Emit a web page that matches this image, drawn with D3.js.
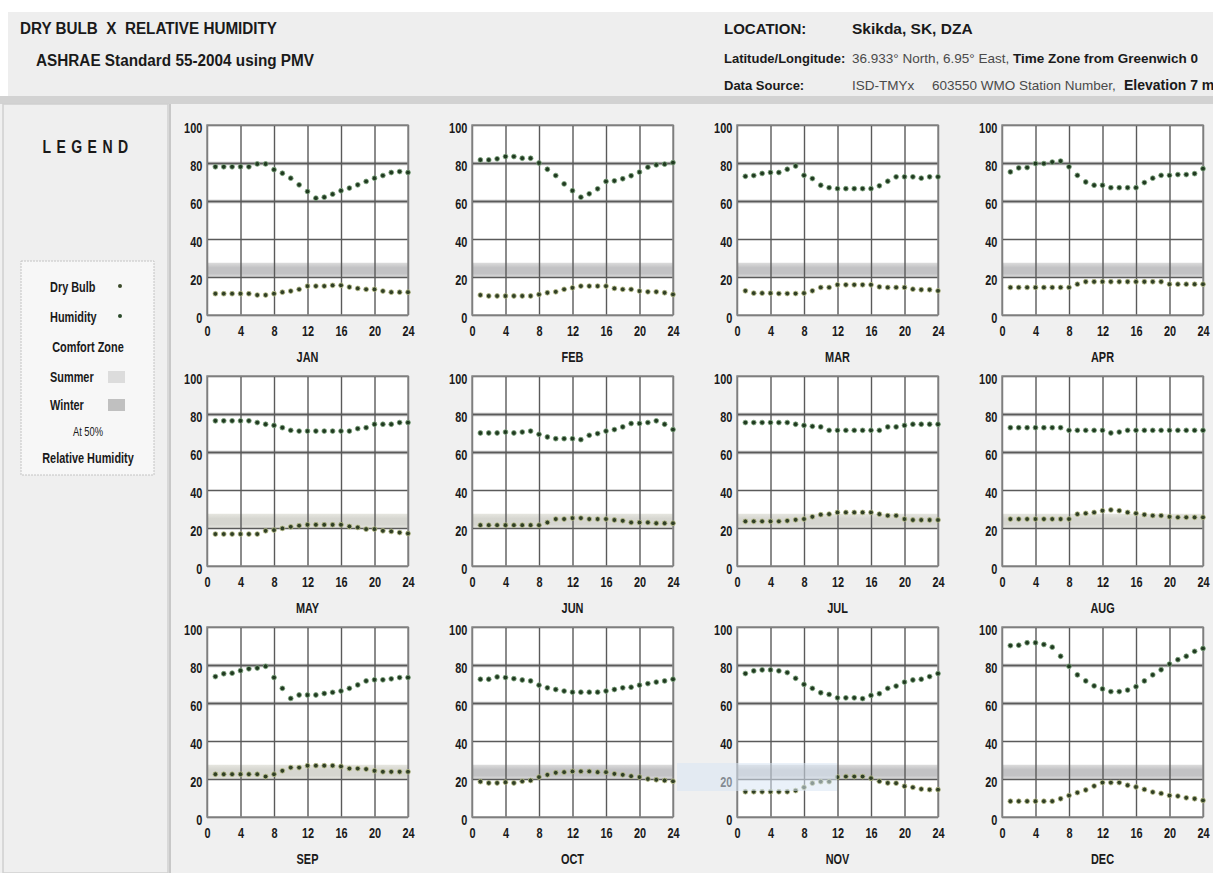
<!DOCTYPE html>
<html>
<head>
<meta charset="utf-8">
<script src="https://cdn.jsdelivr.net/npm/d3@7"></script>
<style>
  body { margin: 0; background: #fff; }
  svg { display: block; }
  .tick text { font-family: "Liberation Sans", Arial, sans-serif; font-weight: bold; font-size: 14px; fill: #1a1a1a; }
  .grid line { stroke: #5a5a5a; stroke-width: 1.4; }
  .grid path { display: none; }
  .axis path, .axis line { display: none; }
</style>
</head>
<body>
<script>
(function() {

    var FONT = '"Liberation Sans", Arial, sans-serif';
    var NARROW = 0.78;   // horizontal squeeze to imitate a narrow face

    // Months, seasons and ticks
    var months = ['JAN', 'FEB', 'MAR', 'APR', 'MAY', 'JUN', 'JUL', 'AUG', 'SEP', 'OCT', 'NOV', 'DEC'];
    var season = ['winter', 'winter', 'winter', 'winter', 'summer', 'summer', 'summer', 'summer', 'summer', 'winter', 'winter', 'winter'];
    var hours = d3.range(1, 25);
    var xTicks = [0, 4, 8, 12, 16, 20, 24];
    var yTicks = [0, 20, 40, 60, 80, 100];

    // Comfort zone (drawn on the same 0-100 scale)
    var comfortLow = 20, comfortHigh = 27.5;

    // Hourly relative humidity (%) per month, hours 1..24
    var humJan = [78, 78, 78, 78, 78, 79.5, 79.5, 76.5, 74.6, 72, 68.5, 65, 61.5, 62, 63.6, 65.4, 66.8, 68.5, 70.3, 72, 73.4, 75, 75.5, 75];
    var humFeb = [81.6, 81.6, 82.2, 83.4, 83.4, 82.5, 82.5, 80, 76.7, 73.4, 69, 65.4, 62, 63.8, 66.4, 70.3, 70.6, 71.7, 73.3, 75.2, 77.8, 79, 79.4, 80.2];
    var humMar = [73, 73.4, 74.5, 75, 75, 76.7, 78.4, 73.5, 71.8, 68.3, 67, 66.5, 66.5, 66.5, 66.5, 66.5, 68, 70.4, 72.7, 72.7, 72.7, 72, 72.7, 72.7];
    var humApr = [75.3, 77.4, 77.6, 79.7, 79.7, 80.5, 81, 78, 73.5, 70, 68.3, 68.3, 67, 67, 67, 67, 69.7, 72, 73.5, 73.5, 73.9, 73.9, 74.4, 77];
    var humMay = [76.4, 76.4, 76.4, 76.4, 76.4, 75.5, 74.6, 74, 72.8, 71.4, 71, 71, 71, 71, 71, 71, 71, 72.3, 72.8, 74.6, 74.6, 74.6, 75.5, 75.5];
    var humJun = [70, 70, 70, 70.5, 70, 70.5, 71, 69.3, 67.9, 67, 67, 67, 66.5, 68.8, 69.7, 71, 71.8, 73.2, 75, 75, 75.5, 76.4, 74.6, 71.8];
    var humJul = [75.5, 75.5, 75.5, 75.5, 75.5, 75.5, 74.6, 74, 73.5, 73.2, 71.4, 71.4, 71.4, 71.4, 71.4, 71.4, 71.4, 73.2, 73.2, 74, 74.6, 74.6, 74.6, 74.6];
    var humAug = [72.8, 72.8, 72.8, 72.8, 72.8, 72.8, 72.8, 71.4, 71.4, 71.4, 71.4, 71.4, 70, 70.5, 71.4, 71.4, 71.4, 71.4, 71.4, 71.4, 71.4, 71.4, 71.4, 71.4];
    var humSep = [73.9, 75.4, 75.7, 77, 78, 78.4, 79.3, 73.4, 67.7, 62.4, 64.2, 64.2, 64.2, 65, 65.6, 66.3, 67.7, 69.5, 71.6, 72.2, 72.2, 72.7, 73.4, 73.4];
    var humOct = [72.5, 72.5, 73.7, 73.4, 72.8, 72.1, 71.6, 69.4, 68, 67.1, 66.3, 65.7, 65.7, 65.7, 65.7, 66.3, 67.1, 68, 68.3, 69.4, 70.2, 71, 71.6, 72.5];
    var humNov = [75.5, 76.9, 77.4, 77.4, 76.9, 76, 73, 69.8, 67.7, 65.4, 64.5, 62.7, 62.7, 62.7, 62.3, 64, 64.9, 67.7, 68.9, 71, 72.1, 72.5, 73.9, 75.5];
    var humDec = [90.2, 90.4, 91.7, 91.7, 90.8, 89.4, 84.6, 79.3, 74.8, 71.6, 69, 67.4, 66, 66, 66.8, 68.6, 71.6, 74.8, 77.5, 80.5, 82.8, 84.6, 87.2, 88.7];

    // Hourly dry bulb temperature (°C) per month, hours 1..24
    var dbJan = [11.2, 11.2, 11.2, 11.2, 11.2, 10.5, 10.5, 11.2, 12, 12.6, 13.5, 15.2, 15.2, 15.2, 15.6, 15.6, 14.7, 14, 13.5, 13.5, 12.6, 12, 12, 12];
    var dbFeb = [10.5, 10, 10, 10, 10, 10, 10, 10.8, 11.7, 12.2, 13.5, 14.3, 15.2, 15.2, 15.2, 15.2, 14, 13.5, 13.5, 12.6, 12.2, 12.2, 11.7, 10.8];
    var dbMar = [12.7, 11.5, 11.5, 11.5, 11.3, 11.3, 11.3, 11.5, 12.7, 14.5, 14.5, 15.9, 15.9, 15.9, 15.9, 15.9, 14.8, 14.5, 14.5, 14.5, 13.6, 13.3, 13.3, 12.7];
    var dbApr = [14.5, 14.5, 14.5, 14.5, 14.5, 14.5, 14.5, 14.5, 16.2, 17.5, 17.5, 17.5, 17.5, 17.5, 17.5, 17.5, 17.5, 17.5, 17.5, 16.2, 16.2, 16.2, 16.2, 16.2];
    var dbMay = [16.8, 16.8, 16.8, 16.8, 16.8, 16.8, 18.5, 18.9, 19.8, 20.6, 21.2, 21.7, 21.7, 21.7, 21.7, 21.7, 20.8, 20.3, 19.4, 19.4, 18.5, 18.2, 17.6, 17.1];
    var dbJun = [21.5, 21.5, 21.5, 21.5, 21.5, 21.5, 21.5, 21.5, 22.9, 24.7, 24.7, 25.2, 25.2, 24.7, 24.7, 24.7, 24.2, 23.8, 22.9, 22.9, 22.9, 22.5, 22.5, 22.5];
    var dbJul = [23.5, 23.5, 23.5, 23.5, 23.5, 23.8, 24.3, 24.7, 25.9, 27, 27.3, 28.2, 28.2, 28.2, 28.2, 28.2, 27.3, 26.5, 26.5, 24.7, 24.2, 24.2, 24.2, 24.2];
    var dbAug = [24.7, 24.7, 24.7, 24.7, 24.7, 24.7, 24.7, 24.7, 27.3, 27.7, 28.2, 29.1, 29.5, 29.1, 28.2, 27.7, 27, 26.5, 26.5, 25.9, 25.6, 25.6, 25.6, 25.6];
    var dbSep = [22.5, 22.5, 22.5, 22.5, 22.5, 22.5, 21.3, 22.5, 24.3, 26, 26, 27, 27, 27, 27, 26.6, 25.5, 25.5, 25.2, 24.3, 23.8, 23.8, 23.8, 23.8];
    var dbOct = [18.6, 17.9, 17.9, 18.3, 17.9, 18.8, 19.2, 21, 22.2, 23.3, 23.6, 24, 24, 24, 23.6, 23.6, 22.7, 22.2, 21.5, 21, 20, 19.6, 19.2, 18.8];
    var dbNov = [13.3, 13.3, 13.3, 13.3, 13.3, 13.3, 13.9, 15.6, 17.8, 18.6, 18.6, 21, 21.3, 21.3, 21.3, 20.4, 18.8, 17.9, 17.8, 16.2, 15.6, 14.7, 14.4, 14.4];
    var dbDec = [8.3, 8.3, 8.3, 8.3, 8.3, 8.3, 9.6, 11.3, 12.8, 14.2, 16.3, 18.1, 18.1, 18.1, 16.7, 15.8, 14.5, 13.1, 12.4, 11.3, 11, 10.1, 9.6, 8.7];

    var humidity = [humJan, humFeb, humMar, humApr, humMay, humJun, humJul, humAug, humSep, humOct, humNov, humDec];
    var dryBulb = [dbJan, dbFeb, dbMar, dbApr, dbMay, dbJun, dbJul, dbAug, dbSep, dbOct, dbNov, dbDec];

    // Page and panel dimensions
    var W = 1213, H = 873;
    var panel = {left: 207, top: 125, dx: 265, dy: 251, width: 201, height: 190};

    var svg = d3.select('body').append('svg')
        .attr('width', W)
        .attr('height', H);

    var defs = svg.append('defs');
    function bandGradient(id, mid, edge) {
        var g = defs.append('linearGradient').attr('id', id)
            .attr('x1', 0).attr('y1', 0).attr('x2', 0).attr('y2', 1);
        g.append('stop').attr('offset', '0%').attr('stop-color', edge);
        g.append('stop').attr('offset', '35%').attr('stop-color', mid);
        g.append('stop').attr('offset', '75%').attr('stop-color', mid);
        g.append('stop').attr('offset', '100%').attr('stop-color', edge);
    }
    bandGradient('winterBand', '#c2c2c4', '#dcdcdc');
    bandGradient('summerBand', '#d6d6d0', '#e6e6e0');

    // Header strip
    svg.append('rect').attr('x', 0).attr('y', 0).attr('width', W).attr('height', H).attr('fill', '#fff');
    svg.append('rect').attr('x', 8).attr('y', 12).attr('width', W - 8).attr('height', 84).attr('fill', '#eeeeee');
    svg.append('rect').attr('x', 0).attr('y', 96).attr('width', W).attr('height', 8).attr('fill', '#d2d2d2');

    // Body background
    svg.append('rect').attr('x', 0).attr('y', 104).attr('width', W).attr('height', H - 104).attr('fill', '#f0f0f0');
    svg.append('rect').attr('x', 3).attr('y', 104).attr('width', 165).attr('height', H - 104)
        .attr('fill', '#efefef').attr('stroke', '#d0d0d0').attr('stroke-width', 1.5);
    svg.append('line').attr('x1', 170).attr('x2', 170).attr('y1', 104).attr('y2', H)
        .attr('stroke', '#c8c8c8').attr('stroke-width', 2);

    // Text helper: fixed width (textLength), plain, or a narrow squeeze
    function text(parent, x, y, s, size, weight, opt) {
        opt = opt || {};
        var squeeze = (opt.len || opt.plain) ? '' : ' scale(' + NARROW + ',1)';
        var g = parent.append('g')
            .attr('transform', 'translate(' + x + ',' + y + ')' + squeeze);
        var t = g.append('text')
            .attr('dy', '0.35em')
            .attr('text-anchor', opt.anchor || 'start')
            .attr('font-family', FONT)
            .attr('font-size', size)
            .attr('font-weight', weight || 'normal')
            .attr('fill', opt.fill || '#1a1a1a')
            .style('white-space', 'pre')
            .text(s);
        if (opt.len) t.attr('textLength', opt.len).attr('lengthAdjust', 'spacingAndGlyphs');
        if (opt.spacing) t.attr('letter-spacing', opt.spacing);
        return t;
    }

    // Header titles
    text(svg, 20, 28, 'DRY BULB  X  RELATIVE HUMIDITY', 16, 'bold', {len: 257});
    text(svg, 36, 60, 'ASHRAE Standard 55-2004 using PMV', 16, 'bold', {len: 278});

    var gray = '#4a4a4a';
    text(svg, 724, 29, 'LOCATION:', 15, 'bold', {plain: true});
    text(svg, 852, 29, 'Skikda, SK, DZA', 15.5, 'bold', {plain: true});
    text(svg, 724, 58, 'Latitude/Longitude:', 13, 'bold', {plain: true});
    text(svg, 852, 58, '36.933° North, 6.95° East,', 13.5, 'normal', {plain: true, fill: gray});
    text(svg, 1013, 58, 'Time Zone from Greenwich 0', 13.5, 'bold', {plain: true});
    text(svg, 724, 85, 'Data Source:', 13, 'bold', {plain: true});
    text(svg, 852, 85, 'ISD-TMYx', 13.5, 'normal', {plain: true, fill: gray});
    text(svg, 932, 85, '603550 WMO Station Number,', 13.5, 'normal', {plain: true, fill: gray});
    text(svg, 1124, 85, 'Elevation 7 m', 14, 'bold', {plain: true});

    // Legend
    text(svg, 88, 147, 'LEGEND', 18, 'bold', {anchor: 'middle', spacing: 7});
    svg.append('rect').attr('x', 21).attr('y', 261).attr('width', 133).attr('height', 214)
        .attr('fill', '#f7f7f7').attr('stroke', '#c4c4c4').attr('stroke-dasharray', '2,1');
    text(svg, 50, 287, 'Dry Bulb', 14, 'bold');
    text(svg, 50, 317, 'Humidity', 14, 'bold');
    text(svg, 88, 347, 'Comfort Zone', 14, 'bold', {anchor: 'middle'});
    text(svg, 50, 377, 'Summer', 14, 'bold');
    text(svg, 50, 405, 'Winter', 14, 'bold');
    text(svg, 88, 432, 'At 50%', 12, 'normal', {anchor: 'middle'});
    text(svg, 88, 458, 'Relative Humidity', 14, 'bold', {anchor: 'middle'});
    svg.append('circle').attr('cx', 120).attr('cy', 286).attr('r', 2).attr('fill', '#3a4a2a');
    svg.append('circle').attr('cx', 120).attr('cy', 316).attr('r', 2).attr('fill', '#2b4a2b');
    svg.append('rect').attr('x', 108).attr('y', 371).attr('width', 17).attr('height', 12).attr('fill', '#dcdcdc');
    svg.append('rect').attr('x', 108).attr('y', 399).attr('width', 17).attr('height', 12).attr('fill', '#c0c0c0');

    // Scales shared by all panels
    var x = d3.scaleLinear().domain([0, 24]).range([0, panel.width]);
    var y = d3.scaleLinear().domain([0, 100]).range([panel.height, 0]);

    months.forEach(function(m, i) {
        var col = i % 4, row = Math.floor(i / 4);
        var g = svg.append('g')
            .attr('transform', 'translate(' + (panel.left + col * panel.dx) + ',' + (panel.top + row * panel.dy) + ')');

        // Plot background
        g.append('rect')
            .attr('width', panel.width).attr('height', panel.height)
            .attr('fill', '#fff');

        // Comfort zone band
        g.append('rect')
            .attr('x', 0).attr('width', panel.width)
            .attr('y', y(comfortHigh)).attr('height', y(comfortLow) - y(comfortHigh))
            .attr('fill', 'url(#' + season[i] + 'Band)');

        // Soft halo under the 60 and 80 grid lines
        g.append('g')
            .attr('class', 'grid')
            .call(d3.axisLeft(y).tickValues([60, 80]).tickSize(-panel.width).tickFormat(''))
            .selectAll('line').style('stroke', '#b8b8b8').style('stroke-width', 3.5);

        // Grid lines
        g.append('g')
            .attr('class', 'grid')
            .call(d3.axisLeft(y).tickValues(yTicks).tickSize(-panel.width).tickFormat(''));
        g.append('g')
            .attr('class', 'grid')
            .attr('transform', 'translate(0,' + panel.height + ')')
            .call(d3.axisBottom(x).tickValues(xTicks).tickSize(panel.height).tickFormat(''))
            .selectAll('line').attr('y2', -panel.height);

        // Frame
        g.append('rect')
            .attr('width', panel.width).attr('height', panel.height)
            .attr('fill', 'none').attr('stroke', '#8a8a8a').attr('stroke-width', 1.5);

        // Axes labels, squeezed to a narrow face
        g.append('g')
            .attr('class', 'axis')
            .attr('transform', 'translate(0,3)')
            .call(d3.axisLeft(y).tickValues(yTicks).tickSize(0).tickPadding(6))
            .selectAll('text').attr('transform', 'scale(' + NARROW + ',1)');
        g.append('g')
            .attr('class', 'axis')
            .attr('transform', 'translate(0,' + panel.height + ')')
            .call(d3.axisBottom(x).tickValues(xTicks).tickSize(0).tickPadding(11))
            .selectAll('text').attr('transform', 'scale(' + NARROW + ',1)');

        text(g, panel.width / 2, panel.height + 42, m, 14, 'bold', {anchor: 'middle'});

        // Dry bulb points
        g.append('g').selectAll('circle')
            .data(dryBulb[i])
            .enter().append('circle')
            .attr('cx', function(d, j) { return x(hours[j]); })
            .attr('cy', function(d) { return y(d); })
            .attr('r', 2.4)
            .attr('fill', '#303f26')
            .attr('stroke', '#b8bc88')
            .attr('stroke-width', 0.8);

        // Humidity points
        g.append('g').selectAll('circle')
            .data(humidity[i])
            .enter().append('circle')
            .attr('cx', function(d, j) { return x(hours[j]); })
            .attr('cy', function(d) { return y(d); })
            .attr('r', 2.4)
            .attr('fill', '#213a21')
            .attr('stroke', '#7da57d')
            .attr('stroke-width', 0.8);
    });

    // Faint selection highlight left over on the screenshot
    svg.append('rect')
        .attr('x', 677).attr('y', 763).attr('width', 160).attr('height', 28)
        .attr('fill', '#d8e6f4').attr('opacity', 0.55);

})();
</script>
</body>
</html>
